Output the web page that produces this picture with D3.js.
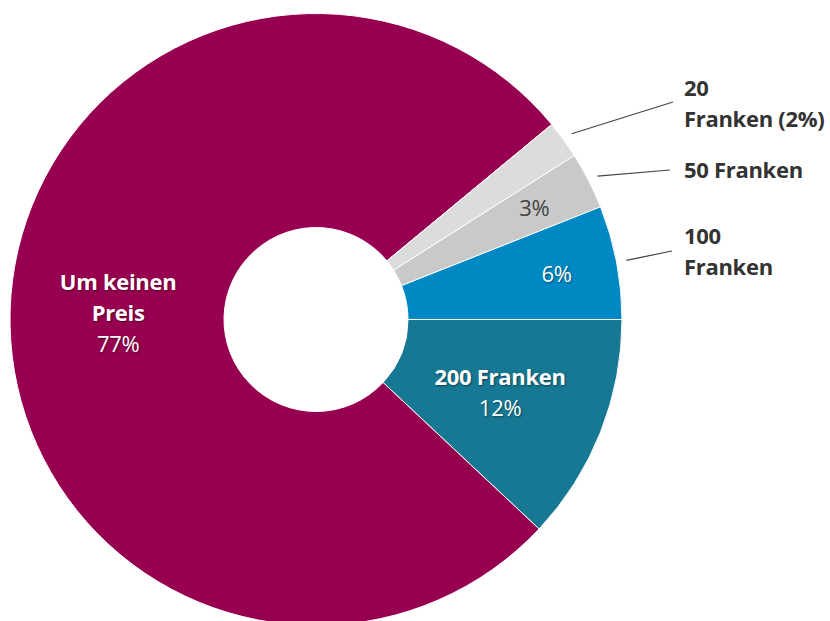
<!DOCTYPE html>
<html>
<head>
<meta charset="utf-8">
<script src="https://cdn.jsdelivr.net/npm/d3@7"></script>
<style>
  body { margin: 0; background: #fff; }
  svg text { font-family: "Open Sans", "Noto Sans", sans-serif; letter-spacing: -0.3px; }
  .in { fill: #fff; text-shadow: 1px 1px 2px rgba(0,0,0,0.45); }
</style>
</head>
<body>
<svg id="chart" width="830" height="621"></svg>
<script>
const width = 830;
const height = 621;

// data
const categories = ["200 Franken", "Um keinen Preis", "20 Franken", "50 Franken", "100 Franken"];
const values = [12, 77, 2, 3, 6];
const colors = ["#167893", "#970050", "#dcdcdc", "#c9c9c9", "#0088c4"];

const cx = 316, cy = 319.5;
const outerR = 306, innerR = 92;

const svg = d3.select("#chart");
const g = svg.append("g").attr("transform", `translate(${cx},${cy})`);

const color = d3.scaleOrdinal().domain(categories).range(colors);

const pie = d3.pie()
  .sort(null)
  .value(d => d.value)
  .startAngle(Math.PI / 2)
  .endAngle(Math.PI / 2 + 2 * Math.PI);

const data = categories.map((c, i) => ({ name: c, value: values[i] }));
const arcs = pie(data);

const arc = d3.arc().innerRadius(innerR).outerRadius(outerR);

g.selectAll("path.slice")
  .data(arcs)
  .enter().append("path")
  .attr("class", "slice")
  .attr("d", arc)
  .attr("fill", d => color(d.data.name))
  .attr("stroke", "#fff")
  .attr("stroke-width", 1);

// label radii
const bigArc = d3.arc().innerRadius(198).outerRadius(198);
const smallArc = d3.arc().innerRadius(245).outerRadius(245);
const lineArc = d3.arc().innerRadius(316).outerRadius(316);

// big slices: bold name + percentage inside
function innerLabel(d, lines) {
  const [x, y] = bigArc.centroid(d);
  const t = g.append("text")
    .attr("class", "in")
    .attr("text-anchor", "middle")
    .attr("font-size", 22);
  const lh = 31;
  const y0 = y - (lines.length) * lh / 2 + lh * 0.75;
  lines.forEach((l, i) => {
    t.append("tspan")
      .attr("x", x)
      .attr("y", y0 + i * lh)
      .attr("font-weight", l.bold ? 700 : 400)
      .text(l.text);
  });
}

innerLabel(arcs[1], [
  { text: "Um keinen", bold: true },
  { text: "Preis", bold: true },
  { text: values[1] + "%", bold: false }
]);
innerLabel(arcs[0], [
  { text: categories[0], bold: true },
  { text: values[0] + "%", bold: false }
]);

// small slices: percentage in slice
[[arcs[4], "#fff", "in"], [arcs[3], "#444", ""]].forEach(([d, fill, cls]) => {
  const [x, y] = smallArc.centroid(d);
  g.append("text")
    .attr("class", cls)
    .attr("x", x)
    .attr("y", y + 8)
    .attr("text-anchor", "middle")
    .attr("font-size", 22)
    .attr("fill", fill)
    .text(d.data.value + "%");
});

// outside labels with leader lines
const outside = [
  { d: arcs[2], end: [357, -217.5], lines: ["20", "Franken (" + values[2] + "%)"], ty: -224 },
  { d: arcs[3], end: [354, -149.5], lines: ["50 Franken"], ty: -142 },
  { d: arcs[4], end: [356, -68.5], lines: ["100", "Franken"], ty: -76 }
];

outside.forEach(o => {
  const [x1, y1] = lineArc.centroid(o.d);
  g.append("line")
    .attr("x1", x1).attr("y1", y1)
    .attr("x2", o.end[0]).attr("y2", o.end[1])
    .attr("stroke", "#444")
    .attr("stroke-width", 1.2);
  const t = g.append("text")
    .attr("font-size", 22)
    .attr("font-weight", 700)
    .attr("fill", "#333");
  o.lines.forEach((l, i) => {
    t.append("tspan")
      .attr("x", 368)
      .attr("y", o.ty + i * 31)
      .text(l);
  });
});
</script>
</body>
</html>
